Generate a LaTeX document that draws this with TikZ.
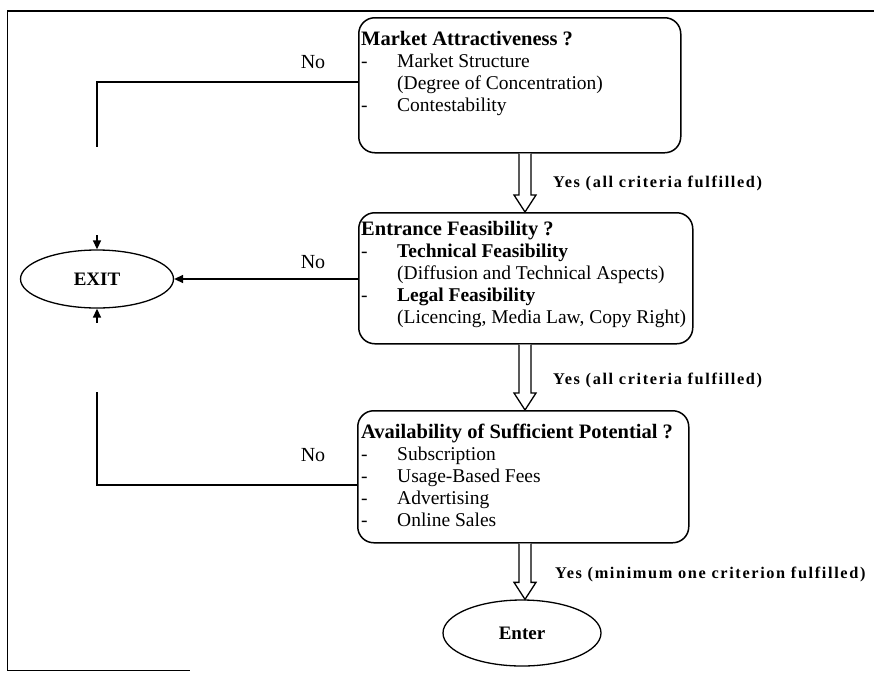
\documentclass[tikz,border=0pt]{standalone}
\usepackage{fontspec}
\setmainfont{Liberation Serif}
\usetikzlibrary{shapes.geometric,arrows.meta,calc}
\newcommand\harrow[2]{\draw[hollow] ($(#1)+(-6,0)$) -- ($(#2)+(-6,-17)$) -- ($(#2)+(-11,-17)$) -- (#2) -- ($(#2)+(11,-17)$) -- ($(#2)+(6,-17)$) -- ($(#1)+(6,0)$);}
\newcommand\btitle[1]{{\fontsize{20.5}{22}\selectfont\bfseries #1}}
\begin{document}
\begin{tikzpicture}[x=1pt,y=-1pt,
 box/.style={draw,line width=1.5pt,rounded corners=16pt,anchor=north west,inner sep=0},
 boxtext/.style={anchor=base west,inner sep=0,font=\fontsize{19.5}{22}\selectfont},
 term/.style={draw,ellipse,line width=1.3pt,inner sep=0,font=\fontsize{19}{22}\selectfont\bfseries},
 flow/.style={line width=1.4pt},
 hollow/.style={draw,line width=1.3pt,fill=white,line join=miter},
 nolab/.style={font=\fontsize{20}{22}\selectfont,inner sep=0},
 yeslab/.style={font=\fontsize{16.3}{18}\selectfont\bfseries\addfontfeature{LetterSpace=10},anchor=west,inner sep=0},
 tip/.style={-{Triangle[length=9pt,width=8pt]}}
]
\useasboundingbox (0,0) rectangle (874,672);
% frame
\draw[line width=2.8pt] (7,11) -- (874,11);
\draw[line width=1pt] (7,11) -- (7,670) -- (190,670);
% boxes
\node[box,minimum width=322pt,minimum height=135pt] (b1) at (358,17) {};
\node[box,minimum width=334pt,minimum height=131pt] (b2) at (358,212) {};
\node[box,minimum width=331pt,minimum height=132pt] (b3) at (357,410) {};
\node[boxtext] (t1) at (361,45) {\begin{tabular}[t]{@{}p{36pt}@{}l@{}}\multicolumn{2}{@{}l@{}}{\btitle{Market Attractiveness ?}}\\ -&Market Structure\\ &(Degree of Concentration)\\ -&Contestability\end{tabular}};
\node[boxtext] (t2) at (361,235) {\begin{tabular}[t]{@{}p{36pt}@{}l@{}}\multicolumn{2}{@{}l@{}}{\btitle{Entrance Feasibility ?}}\\ -&\textbf{Technical Feasibility}\\ &(Diffusion and Technical Aspects)\\ -&\textbf{Legal Feasibility}\\ &(Licencing, Media Law, Copy Right)\end{tabular}};
\node[boxtext] (t3) at (361,438) {\begin{tabular}[t]{@{}p{36pt}@{}l@{}}\multicolumn{2}{@{}l@{}}{\btitle{Availability of Sufficient Potential ?}}\\ -&Subscription\\ -&Usage-Based Fees\\ -&Advertising\\ -&Online Sales\end{tabular}};
% terminals
\node[term,minimum width=153pt,minimum height=58pt] (exit) at (97,279) {EXIT};
\node[term,minimum width=158pt,minimum height=66pt] (enter) at (522,633) {Enter};
% No branches
\coordinate (c1) at (97,147);
\coordinate (c3) at (97,392);
\draw[flow] ($(b1.north west)+(0,65)$) -| (c1);
\draw[flow,tip] ($(exit.north)+(0,-14)$) -- (exit.north);
\draw[flow,tip] (b2.west |- exit.east) -- (exit.east);
\draw[flow] ($(b3.north west)+(0,75)$) -| (c3);
\draw[flow,tip] ($(exit.south)+(0,14)$) -- (exit.south);
\node[nolab] (n1) at (313,62) {No};
\node[nolab] (n2) at (313,262) {No};
\node[nolab] (n3) at (313,455) {No};
% Yes arrows
\coordinate (ax) at (525,0);
\harrow{b1.south -| ax}{b2.north -| ax}
\harrow{b2.south -| ax}{b3.north -| ax}
\harrow{b3.south -| ax}{enter.north -| ax}
\node[yeslab] (y1) at (553,183) {Yes (all criteria fulfilled)};
\node[yeslab] (y2) at (553,380) {Yes (all criteria fulfilled)};
\node[yeslab] (y3) at (555,574) {Yes (minimum one criterion fulfilled)};
\end{tikzpicture}
\end{document}
